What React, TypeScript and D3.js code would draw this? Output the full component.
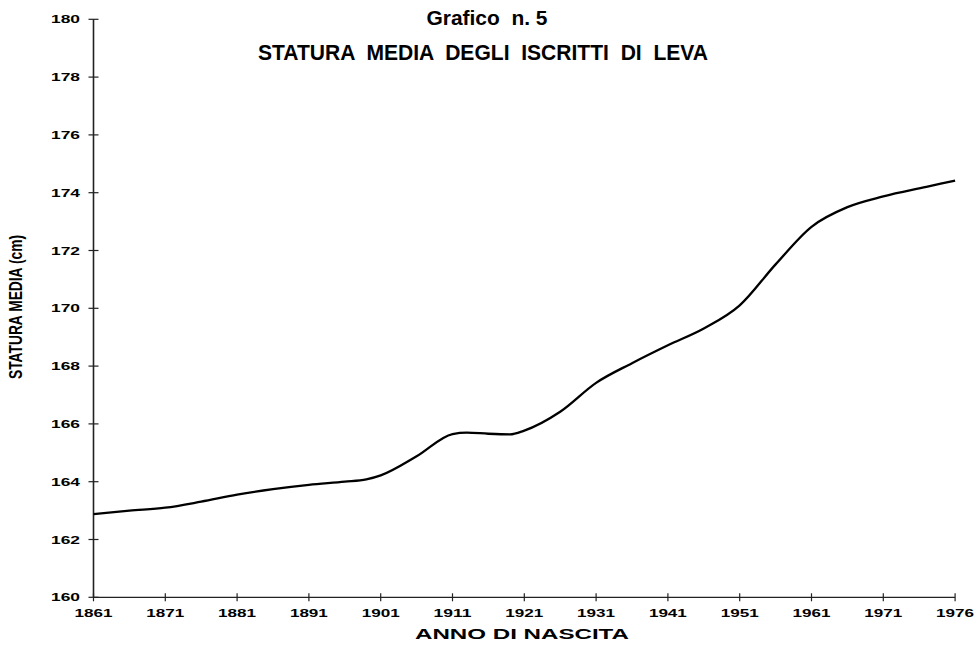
import React from "react";
import * as d3 from "d3";

const years = [1861, 1866, 1871, 1876, 1881, 1886, 1891, 1896, 1899, 1901, 1906, 1911, 1913, 1916, 1919, 1921, 1926, 1931, 1936, 1941, 1946, 1951, 1956, 1961, 1966, 1971, 1974, 1976];
const stature = [162.88, 163.0, 163.1, 163.31, 163.55, 163.74, 163.89, 164.0, 164.08, 164.22, 164.88, 165.65, 165.7, 165.66, 165.64, 165.77, 166.42, 167.42, 168.1, 168.72, 169.3, 170.1, 171.52, 172.82, 173.5, 173.87, 174.2, 174.42];
const xTickYears = [1861, 1871, 1881, 1891, 1901, 1911, 1921, 1931, 1941, 1951, 1961, 1971, 1976];
const yTickValues = [160, 162, 164, 166, 168, 170, 172, 174, 176, 178, 180];

const titleLine1 = "Grafico  n. 5";
const titleLine2 = "STATURA  MEDIA  DEGLI  ISCRITTI  DI  LEVA";
const xTitle = "ANNO DI NASCITA";
const yTitle = "STATURA MEDIA (cm)";

export default function App() {
  const x0 = 93.5;
  const step = 71.8;
  const x = d3
    .scaleLinear()
    .domain([1861, 1971, 1976])
    .range([x0, x0 + 11 * step, x0 + 12 * step]);
  const y = d3.scaleLinear().domain([160, 180]).range([597.3, 19.3]);

  const data = years.map((yr, i) => ({ yr, v: stature[i] }));
  const line = d3
    .line<{ yr: number; v: number }>()
    .x((d) => x(d.yr))
    .y((d) => y(d.v))
    .curve(d3.curveMonotoneX);

  const font = "'Liberation Sans', Arial, Helvetica, sans-serif";
  const axisColor = "#222";

  return (
    <svg
      width={978}
      height={646}
      style={{ position: "absolute", left: 0, top: 0, background: "#fff" }}
      fontFamily={font}
    >
      <rect x={0} y={0} width={978} height={646} fill="#fff" />
      {/* titles */}
      <text x={487} y={25} textAnchor="middle" fontWeight="bold" fontSize={20.5} fill="#000" style={{ whiteSpace: "pre" }} textLength={121} lengthAdjust="spacingAndGlyphs">
        {titleLine1}
      </text>
      <text x={483} y={60} textAnchor="middle" fontWeight="bold" fontSize={22} fill="#000" style={{ whiteSpace: "pre" }} textLength={450} lengthAdjust="spacingAndGlyphs">
        {titleLine2}
      </text>

      {/* axes */}
      <line x1={x(1861)} x2={x(1861)} y1={y(180)} y2={y(160)} stroke={axisColor} strokeWidth={1.6} />
      <line x1={x(1861)} x2={x(1976)} y1={y(160)} y2={y(160)} stroke={axisColor} strokeWidth={1.3} />

      {yTickValues.map((v) => (
        <g key={"y" + v}>
          <line x1={x(1861) - 5} x2={x(1861) + 5} y1={y(v)} y2={y(v)} stroke={axisColor} strokeWidth={1.2} />
          <text
            x={80}
            y={y(v) + 4}
            textAnchor="end"
            fontWeight="bold"
            fontSize={11}
            textLength={29}
            lengthAdjust="spacingAndGlyphs"
            fill="#000"
          >
            {v}
          </text>
        </g>
      ))}

      {xTickYears.map((yr) => (
        <g key={"x" + yr}>
          <line x1={x(yr)} x2={x(yr)} y1={y(160) - 4} y2={y(160) + 4} stroke={axisColor} strokeWidth={1.2} />
          <text
            x={x(yr)}
            y={617}
            textAnchor="middle"
            fontWeight="bold"
            fontSize={11}
            textLength={38}
            lengthAdjust="spacingAndGlyphs"
            fill="#000"
          >
            {yr}
          </text>
        </g>
      ))}

      <text x={522} y={639} textAnchor="middle" fontWeight="bold" fontSize={14.5} textLength={214} lengthAdjust="spacingAndGlyphs" fill="#000">
        {xTitle}
      </text>
      <text
        transform={`translate(21.5, 307) rotate(-90)`}
        textAnchor="middle"
        fontWeight="bold"
        fontSize={19}
        textLength={144}
        lengthAdjust="spacingAndGlyphs"
        fill="#000"
      >
        {yTitle}
      </text>

      <path d={line(data) || ""} fill="none" stroke="#000" strokeWidth={2.3} strokeLinejoin="round" />
    </svg>
  );
}
